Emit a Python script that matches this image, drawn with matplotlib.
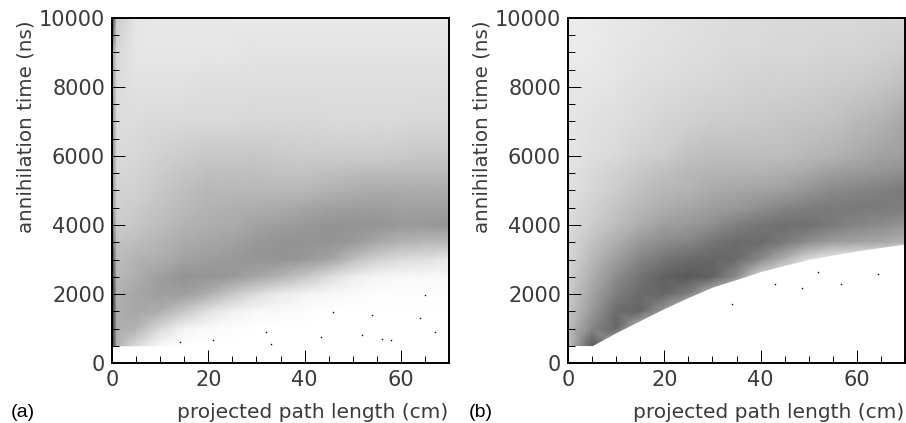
import matplotlib
matplotlib.use('Agg')
import matplotlib.pyplot as plt
import numpy as np

# The original has tens of thousands of dots, too many to read one by one.
# So the tables hold the ink coverage (%) read off the picture by region,
# and only the isolated dots are listed singly.
y_rows = [10000, 9000, 8000, 7000, 6000, 5500, 5000, 4500, 4000, 3500, 3000, 2500, 2000, 1500, 1000, 500]

x_a = [0, 1, 5, 10, 15, 20, 25, 30, 35, 40, 45, 50, 55, 60, 65, 70]
density_a = [
    [85, 20, 10, 9, 9, 9, 9, 9, 9, 9, 9, 9, 9, 9, 9, 9],
    [40, 15, 10, 10, 10, 10, 10, 11, 11, 11, 11, 11, 11, 11, 11, 11],
    [45, 14, 12, 12, 12, 13, 13, 13, 13, 13, 13, 13, 13, 13, 13, 13],
    [45, 14, 14, 15, 15, 15, 15, 16, 16, 16, 15, 15, 15, 15, 16, 16],
    [50, 15, 16, 18, 20, 22, 22, 22, 21, 20, 20, 20, 20, 21, 22, 22],
    [45, 16, 17, 20, 23, 25, 25, 25, 24, 24, 25, 26, 27, 27, 27, 27],
    [45, 17, 18, 22, 25, 28, 28, 28, 28, 28, 30, 32, 33, 33, 33, 33],
    [45, 18, 20, 24, 27, 30, 31, 32, 33, 35, 37, 38, 38, 37, 37, 37],
    [55, 20, 22, 26, 30, 32, 33, 36, 38, 40, 42, 42, 42, 40, 40, 42],
    [65, 24, 26, 29, 33, 35, 37, 40, 42, 42, 42, 40, 34, 30, 28, 28],
    [75, 26, 30, 32, 36, 38, 40, 42, 42, 40, 36, 26, 18, 14, 12, 9],
    [80, 28, 32, 38, 42, 42, 40, 35, 30, 22, 14, 7, 4, 3, 3, 3],
    [85, 30, 35, 38, 38, 32, 22, 14, 8, 5, 3, 2, 1, 1, 1, 1],
    [85, 32, 35, 32, 22, 12, 6, 3, 2, 1, 0, 0, 0, 0, 0, 0],
    [85, 32, 30, 15, 5, 2, 1, 0, 0, 0, 0, 0, 0, 0, 0, 0],
    [85, 30, 15, 2, 0, 0, 0, 0, 0, 0, 0, 0, 0, 0, 0, 0],
]
stray_x_a = [14.1, 21, 32, 33, 43.5, 46, 54, 64, 67, 65, 58, 56, 52]
stray_y_a = [610, 660, 900, 560, 755, 1480, 1385, 1290, 900, 1965, 660, 700, 800]

x_b = [0, 5, 10, 15, 20, 25, 30, 35, 40, 45, 50, 55, 60, 65, 70]
density_b = [
    [8, 8, 9, 10, 11, 12, 13, 14, 14, 15, 15, 15, 15, 16, 16],
    [8, 8, 10, 11, 12, 13, 14, 15, 15, 16, 16, 17, 17, 18, 20],
    [10, 10, 11, 13, 14, 15, 16, 17, 18, 18, 19, 20, 21, 23, 26],
    [10, 12, 13, 15, 17, 18, 20, 20, 21, 22, 23, 24, 27, 30, 35],
    [10, 13, 15, 18, 20, 24, 26, 26, 26, 26, 28, 30, 33, 36, 38],
    [12, 15, 18, 22, 25, 28, 30, 30, 30, 32, 34, 38, 40, 42, 44],
    [12, 16, 20, 25, 28, 30, 33, 35, 36, 38, 42, 46, 48, 50, 52],
    [13, 18, 23, 28, 32, 35, 38, 40, 44, 48, 50, 52, 52, 52, 50],
    [14, 20, 26, 32, 38, 40, 44, 50, 54, 56, 56, 52, 48, 45, 42],
    [15, 24, 32, 40, 45, 48, 54, 58, 58, 52, 44, 38, 36, 34, 30],
    [16, 28, 38, 48, 54, 58, 60, 58, 46, 30, 14, 6, 3, 0, 0],
    [18, 32, 45, 55, 62, 65, 62, 45, 15, 6, 2, 0, 0, 0, 0],
    [20, 36, 50, 58, 60, 50, 25, 8, 2, 0, 0, 0, 0, 0, 0],
    [22, 40, 58, 60, 40, 12, 3, 0, 0, 0, 0, 0, 0, 0, 0],
    [25, 48, 60, 25, 5, 0, 0, 0, 0, 0, 0, 0, 0, 0, 0],
    [25, 65, 20, 2, 0, 0, 0, 0, 0, 0, 0, 0, 0, 0, 0],
]
# lower edge of the dense band in panel (b)
edge_y_b = [500, 500, 880, 1230, 1580, 1900, 2200, 2420, 2650, 2830, 3000, 3130, 3250, 3350, 3450]
stray_x_b = [64.3, 56.7, 48.6, 34, 52, 43]
stray_y_b = [2570, 2300, 2160, 1720, 2650, 2280]

panel_labels = ['(a)', '(b)']
major_x = [0, 20, 40, 60]
major_y = [0, 2000, 4000, 6000, 8000, 10000]

W, H = 906, 423
fig = plt.figure(figsize=(W / 100, H / 100), dpi=100)
TXT = '#3a3a3a'


def make_panel(left, right, x, dens, sx, sy, label, label_x):
    ax = fig.add_axes([left / W, 1 - 363 / H, (right - left) / W, 345 / H])
    ax.pcolormesh(x, y_rows, np.array(dens, dtype=float), cmap='gray_r', vmin=0, vmax=100,
                  shading='gouraud', rasterized=True)
    ax.scatter(sx, sy, s=1.2, c='black', linewidths=0)
    ax.set_xlim(0, 70)
    ax.set_ylim(0, 10000)
    ax.set_xticks(major_x)
    ax.set_yticks(major_y)
    ax.set_xticks(np.arange(0, 71, 5), minor=True)
    ax.set_yticks(np.arange(0, 10001, 500), minor=True)
    ax.tick_params(which='major', direction='in', length=9.5, width=0.7, labelsize=15,
                   labelcolor=TXT, pad=5)
    ax.tick_params(which='minor', direction='in', length=5, width=0.7)
    for s in ax.spines.values():
        s.set_linewidth(1.4)
    fig.text(448 / W if left < 300 else 904 / W, 1 - 412 / H, 'projected path length (cm)',
             ha='right', va='center', fontsize=14.5, color=TXT)
    fig.text((left - 86) / W, 1 - 127 / H, 'annihilation time (ns)', rotation=90,
             ha='center', va='center', fontsize=14.3, color=TXT)
    fig.text(label_x / W, 1 - 412 / H, label, ha='left', va='center', fontsize=14,
             family='Liberation Sans')
    return ax


ax_a = make_panel(112, 449, x_a, density_a, stray_x_a, stray_y_a, panel_labels[0], 11)
ax_b = make_panel(568, 905, x_b, density_b, stray_x_b, stray_y_b, panel_labels[1], 469)
# white below the sharp edge of panel (b), dots go on top
ax_b.fill_between(x_b, 0, edge_y_b, color='white', zorder=1.5, linewidth=0)
ax_b.collections[1].set_zorder(2)

fig.savefig('out.png', dpi=100)
